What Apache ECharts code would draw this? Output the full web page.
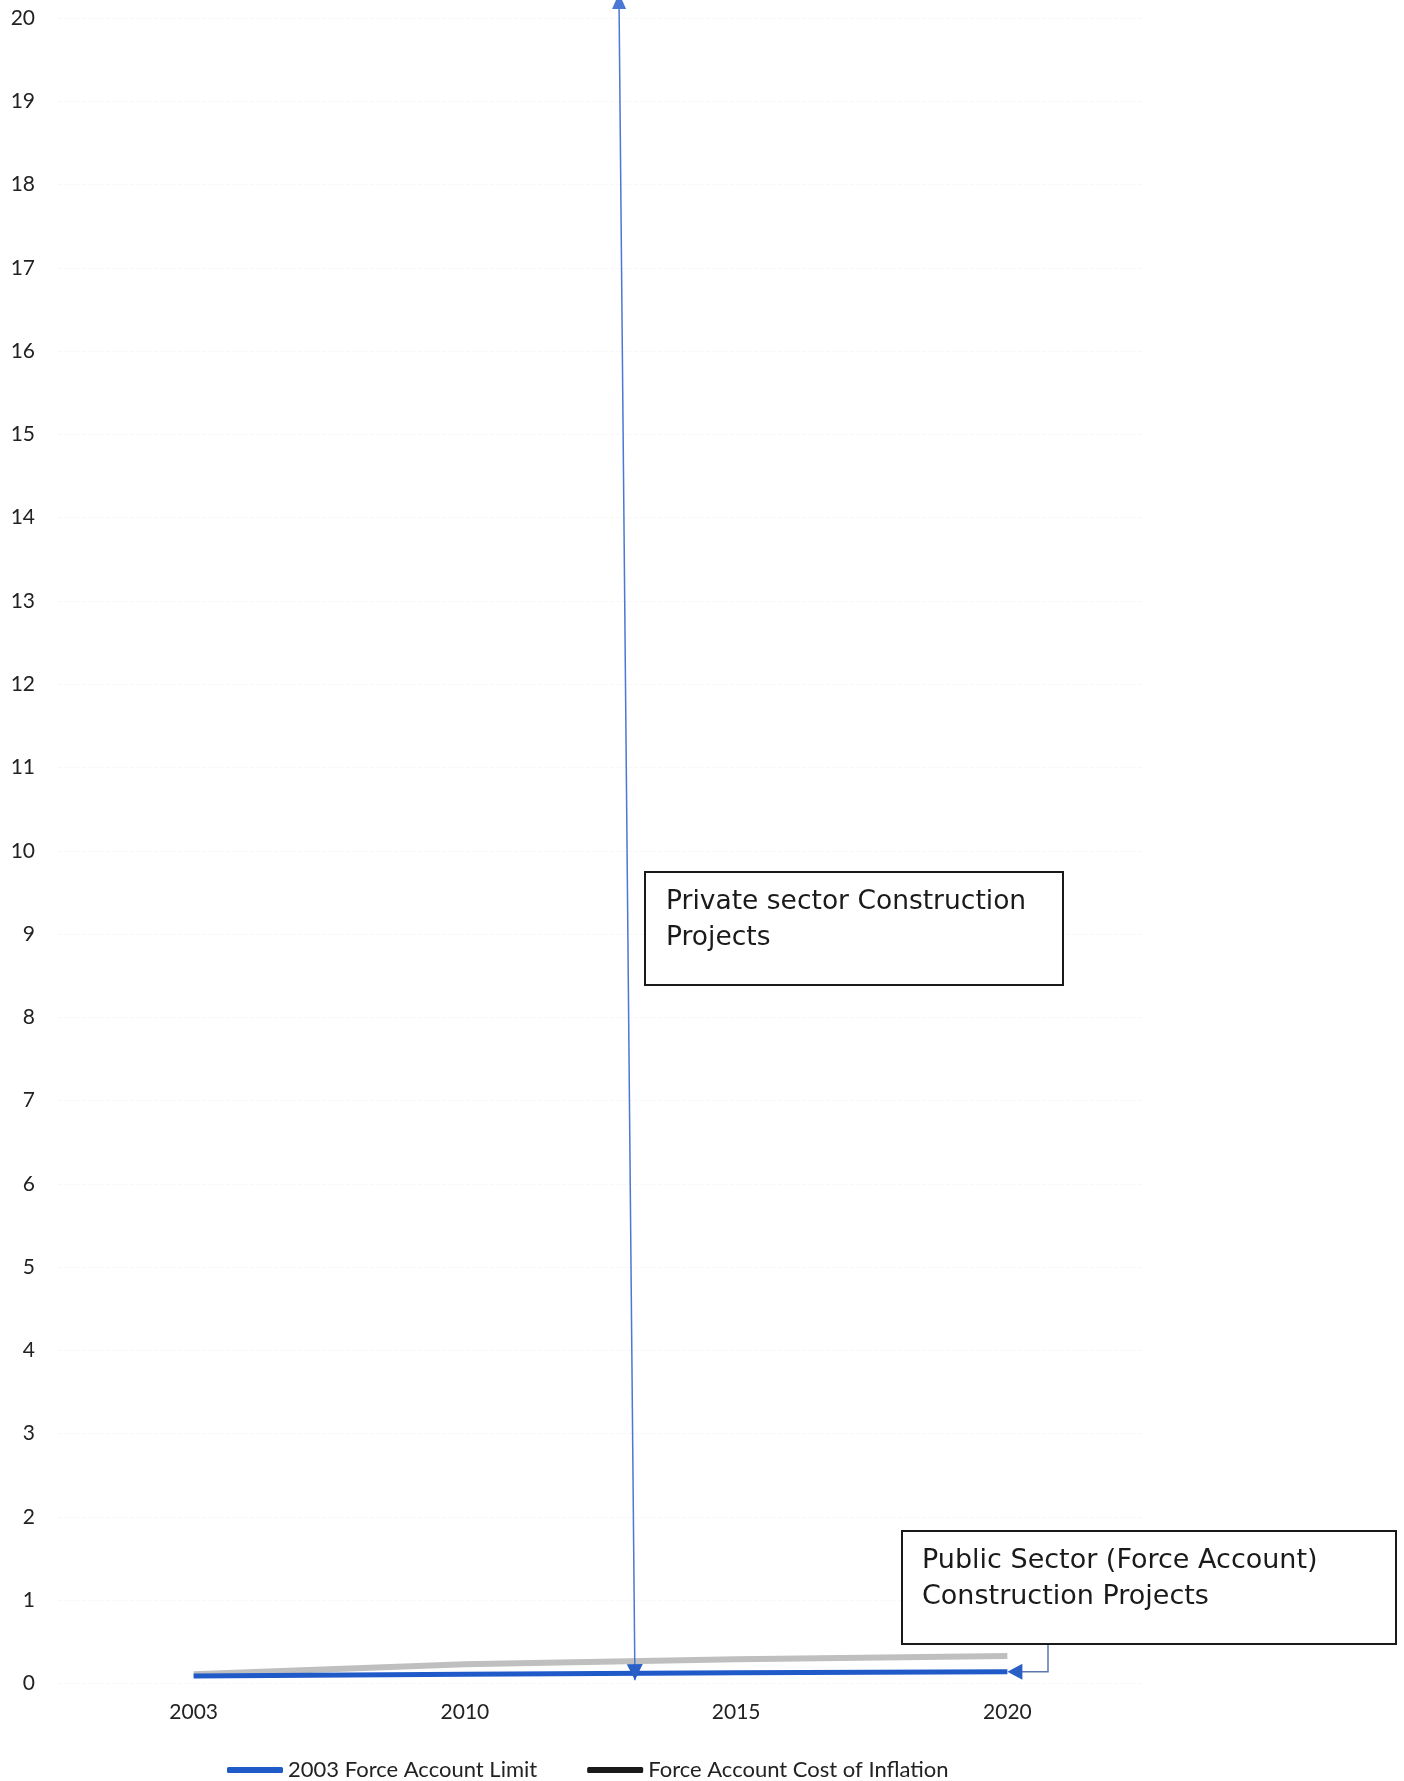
<!DOCTYPE html>
<html>

<head>
    <meta charset="utf-8">
    <title>ECharts</title>
    <script src="https://cdn.jsdelivr.net/npm/echarts@6/dist/echarts.min.js"></script>
</head>

<body style="margin:0;">
    <div id="main" style="width: 1404px;height:1781px;"></div>
    <script type="text/javascript">
        var myChart = echarts.init(document.getElementById('main'));

        // data
        var years = ['2003', '2010', '2015', '2020'];
        var limitValues = [0.09, 0.11, 0.13, 0.14];
        var inflationValues = [0.11, 0.23, 0.29, 0.33];
        var seriesNames = ['2003 Force Account Limit', 'Force Account Cost of Inflation'];

        // annotations (category index, value)
        var privateArrowTop = [1.568, 20.3];
        var privateArrowBottom = [1.627, 0.04];
        var privateText = 'Private sector Construction\nProjects';
        var publicText = 'Public Sector (Force Account)\nConstruction Projects';

        var option = {
            backgroundColor: '#fff',
            animation: false,
            grid: {
                left: 58,
                right: 261,
                top: 18,
                bottom: 97.5
            },
            legend: {
                left: 222,
                top: 1754,
                itemWidth: 56,
                itemHeight: 6,
                itemGap: 50,
                icon: 'roundRect',
                textStyle: {
                    fontFamily: 'Lato',
                    fontSize: 22,
                    color: '#222'
                },
                data: [{
                    name: seriesNames[0],
                    itemStyle: { color: '#1f5ac8' }
                }, {
                    name: seriesNames[1],
                    itemStyle: { color: '#1a1a1a' }
                }]
            },
            xAxis: {
                type: 'category',
                data: years,
                boundaryGap: true,
                axisLine: { show: false },
                axisTick: { show: false },
                axisLabel: {
                    margin: 18,
                    fontFamily: 'Lato',
                    fontSize: 21,
                    color: '#222'
                }
            },
            yAxis: {
                type: 'value',
                min: 0,
                max: 20,
                interval: 1,
                axisLine: { show: false },
                axisTick: { show: false },
                axisLabel: {
                    margin: 23,
                    fontFamily: 'Lato',
                    fontSize: 21,
                    color: '#222'
                },
                splitLine: {
                    lineStyle: { color: '#f7f7f7', type: 'dashed' }
                }
            },
            series: [{
                name: seriesNames[1],
                type: 'line',
                data: inflationValues,
                symbol: 'none',
                z: 2,
                lineStyle: { color: '#bfbfbf', width: 6 },
                itemStyle: { color: '#bfbfbf' }
            }, {
                name: seriesNames[0],
                type: 'line',
                data: limitValues,
                symbol: 'none',
                z: 3,
                lineStyle: { color: '#1f5ac8', width: 5 },
                itemStyle: { color: '#1f5ac8' }
            }]
        };

        myChart.setOption(option);

        // pixel of a (fractional) category index and a value
        function toPixel(idx, val) {
            var i0 = Math.min(Math.floor(idx), years.length - 2);
            var p0 = myChart.convertToPixel({ gridIndex: 0 }, [i0, val]);
            var p1 = myChart.convertToPixel({ gridIndex: 0 }, [i0 + 1, val]);
            return [p0[0] + (idx - i0) * (p1[0] - p0[0]), p0[1]];
        }

        function arrowHead(tip, from, len, half) {
            var dx = tip[0] - from[0], dy = tip[1] - from[1];
            var d = Math.sqrt(dx * dx + dy * dy);
            var ux = dx / d, uy = dy / d;
            var bx = tip[0] - ux * len, by = tip[1] - uy * len;
            return [[tip[0], tip[1]], [bx - uy * half, by + ux * half], [bx + uy * half, by - ux * half]];
        }

        var arrowColor = '#4a78d4';
        var arrowTop = toPixel(privateArrowTop[0], privateArrowTop[1]);
        var arrowBottom = toPixel(privateArrowBottom[0], privateArrowBottom[1]);
        var endPoint = toPixel(years.length - 1, limitValues[limitValues.length - 1]);

        var graphics = [];
        // private sector arrow
        graphics.push({
            type: 'line',
            shape: { x1: arrowTop[0], y1: arrowTop[1], x2: arrowBottom[0], y2: arrowBottom[1] },
            style: { stroke: arrowColor, lineWidth: 1.5 },
            z: 10
        });
        graphics.push({
            type: 'polygon',
            shape: { points: arrowHead(arrowTop, arrowBottom, 16, 7) },
            style: { fill: arrowColor },
            z: 10
        });
        graphics.push({
            type: 'polygon',
            shape: { points: arrowHead(arrowBottom, arrowTop, 16, 8) },
            style: { fill: '#2a5fc6' },
            z: 10
        });

        // private sector box
        graphics.push({
            type: 'rect',
            shape: { x: 645, y: 872, width: 418, height: 113 },
            style: { fill: '#fff', stroke: '#1a1a1a', lineWidth: 2 },
            z: 11
        });
        graphics.push({
            type: 'text',
            x: 666,
            y: 884,
            style: {
                text: privateText,
                font: '26.5px "DejaVu Sans"',
                lineHeight: 36,
                fill: '#1a1a1a'
            },
            z: 12
        });

        // public sector box + connector
        var connX = 1048;
        graphics.push({
            type: 'polyline',
            shape: { points: [[connX, 1644], [connX, endPoint[1]], [endPoint[0] + 14, endPoint[1]]] },
            style: { stroke: '#5b76b0', lineWidth: 1.5, fill: null },
            z: 10
        });
        graphics.push({
            type: 'polygon',
            shape: { points: arrowHead(endPoint, [connX, endPoint[1]], 15, 8) },
            style: { fill: '#2a5fc6' },
            z: 10
        });
        graphics.push({
            type: 'rect',
            shape: { x: 902, y: 1531, width: 494, height: 113 },
            style: { fill: '#fff', stroke: '#1a1a1a', lineWidth: 2 },
            z: 11
        });
        graphics.push({
            type: 'text',
            x: 922,
            y: 1543,
            style: {
                text: publicText,
                font: '27px "DejaVu Sans"',
                lineHeight: 36,
                fill: '#1a1a1a'
            },
            z: 12
        });

        myChart.setOption({ graphic: graphics });
    </script>
</body>

</html>
